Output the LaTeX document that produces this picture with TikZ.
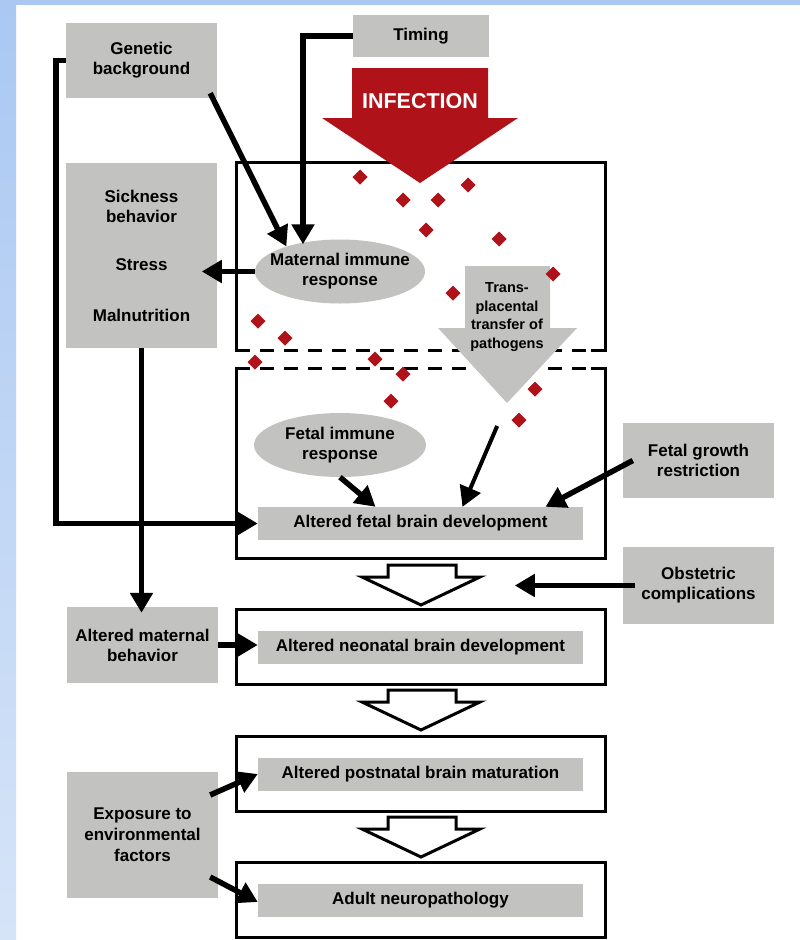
\documentclass[tikz,border=0pt]{standalone}
\usepackage{fontspec}
\setmainfont{Liberation Sans}
\usetikzlibrary{arrows.meta,shapes.geometric}

\definecolor{boxgray}{RGB}{194,194,192}
\definecolor{infred}{RGB}{176,18,26}
\definecolor{stripblue}{RGB}{170,200,242}
\definecolor{stripblue2}{RGB}{214,228,248}

\begin{document}
\begin{tikzpicture}[x=1pt,y=-1pt,
  graybox/.style={fill=boxgray, align=center, inner sep=0pt, font=\fontsize{17}{20}\selectfont\bfseries},
  grayell/.style={fill=boxgray, ellipse, align=center, inner xsep=-10pt, inner ysep=0pt, minimum width=170pt, minimum height=64pt, font=\fontsize{17}{20}\selectfont\bfseries},
  stagebox/.style={draw, line width=3pt, minimum width=369pt, minimum height=75pt, inner sep=0pt},
  inbox/.style={graybox, minimum width=325pt, minimum height=33pt},
  conn/.style={line width=5.5pt, -{Triangle[length=20pt,width=22pt]}},
  hollow/.style={draw, fill=white, line width=3pt},
  frame/.style={line width=3pt},
  dashframe/.style={line width=3pt, dash pattern=on 14pt off 10pt, dash phase=14pt}]
  \useasboundingbox (0,0) rectangle (800,940);

  % background
  \fill[white] (0,0) rectangle (800,940);
  \shade[top color=stripblue, bottom color=stripblue2] (0,0) rectangle (16,940);
  \fill[stripblue] (0,0) rectangle (800,5);

  % maternal and fetal compartments
  \draw[frame] (250,350) -- (236,350) -- (236,162) -- (605,162) -- (605,350) -- (591,350);
  \draw[dashframe] (250,350) -- (591,350);
  \draw[frame] (250,368) -- (236,368) -- (236,558) -- (605,558) -- (605,368) -- (591,368);
  \draw[dashframe] (250,368) -- (591,368);

  % later stages
  \node[stagebox] (neobox) at (420.5,646.5) {};
  \node[stagebox] (postbox) at (420.5,773.5) {};
  \node[stagebox] (adultbox) at (420.5,899.5) {};
  \foreach \y in {565,690,817}
    \draw[hollow] (388,\y) -- (456,\y) -- (456,\y+12) -- (480,\y+12) -- (421,\y+40) -- (362,\y+12) -- (388,\y+12) -- cycle;

  % infection
  \fill[infred] (352,68) -- (488,68) -- (488,118) -- (518,118) -- (420,183) -- (322,118) -- (352,118) -- cycle;
  \node[text=white, font=\fontsize{21.5}{24}\selectfont\bfseries] (infection) at (420,101) {INFECTION};

  % transplacental transfer
  \fill[boxgray] (465,266) -- (550,266) -- (550,328) -- (577,328) -- (507,403) coordinate (tptip) -- (438,328) -- (465,328) -- cycle;
  \node[align=center, font=\fontsize{14.5}{18.5}\selectfont\bfseries] (transfer) at (507,317) {Trans-\\placental\\transfer of\\pathogens};

  % pathogens
  \foreach \x/\y in {360/177,403/200,438/200,468/185,426/230,499/239,553/274,453/293,258/321,285/338,255/362,375/359,403/374,391/401,535/389,519/420}
    \fill[infred] (\x,\y-7.5) -- (\x+7.5,\y) -- (\x,\y+7.5) -- (\x-7.5,\y) -- cycle;

  % factors
  \node[graybox, minimum width=151pt, minimum height=75pt] (genetic) at (141.5,60.5) {Genetic\\background};
  \node[graybox, minimum width=136pt, minimum height=42pt] (timing) at (421,36) {Timing};
  \node[graybox, minimum width=151pt, minimum height=185pt] (sick) at (141.5,255.5) {Sickness\\behavior\\[28pt]Stress\\[31pt]Malnutrition};
  \node[grayell] (mat) at (340,271.5) {Maternal immune\\response};
  \node[grayell, minimum width=172pt] (fimm) at (340,445) {Fetal immune\\response};
  \node[inbox] (fetalbrain) at (420.5,523.5) {Altered fetal brain development};
  \node[graybox, minimum width=151pt, minimum height=75pt] (fgr) at (698.5,460.5) {Fetal growth\\restriction};
  \node[graybox, minimum width=151pt, minimum height=77pt] (obst) at (698.5,585.5) {Obstetric\\complications};
  \node[graybox, minimum width=151pt, minimum height=76pt] (matbeh) at (142.5,645) {Altered maternal\\behavior};
  \node[inbox] (neonatal) at (420.5,647.5) {Altered neonatal brain development};
  \node[inbox] (postnatal) at (420.5,774) {Altered postnatal brain maturation};
  \node[graybox, minimum width=151pt, minimum height=126pt, font=\fontsize{17}{21}\selectfont\bfseries] (expo) at (142.5,835) {Exposure to\\environmental\\factors};
  \node[inbox] (adult) at (420.5,900) {Adult neuropathology};

  % connectors
  \draw[conn] (timing.west) -| ([xshift=-37pt,yshift=-5pt]mat.north);
  \draw[conn] ([xshift=-7pt,yshift=5pt]genetic.south east) -- (mat.155);
  \draw[conn] (mat.west) -- ++(-53,0);
  \draw[conn] (genetic.west) -- ++(-10,0) |- (fetalbrain.west);
  \draw[conn, shorten >=-6pt] (sick.south) -- (sick.south |- matbeh.north);
  \draw[conn] (matbeh.east) -- (matbeh.east -| neonatal.west);
  \draw[conn] (fimm.south) -- ([xshift=-45pt]fetalbrain.north);
  \draw[conn, line width=4pt, shorten <=25pt] (tptip) -- ([xshift=42pt]fetalbrain.north);
  \draw[conn] ([xshift=10pt]fgr.west) -- ([xshift=125pt]fetalbrain.north);
  \draw[conn] ([xshift=12pt]obst.west) -- ++(-120,0);
  \draw[conn] ([xshift=-8pt,yshift=40pt]expo.east) -- (postnatal.west);
  \draw[conn] ([xshift=-8pt,yshift=-42pt]expo.east) -- ([yshift=-2pt]adult.west);
\end{tikzpicture}
\end{document}
